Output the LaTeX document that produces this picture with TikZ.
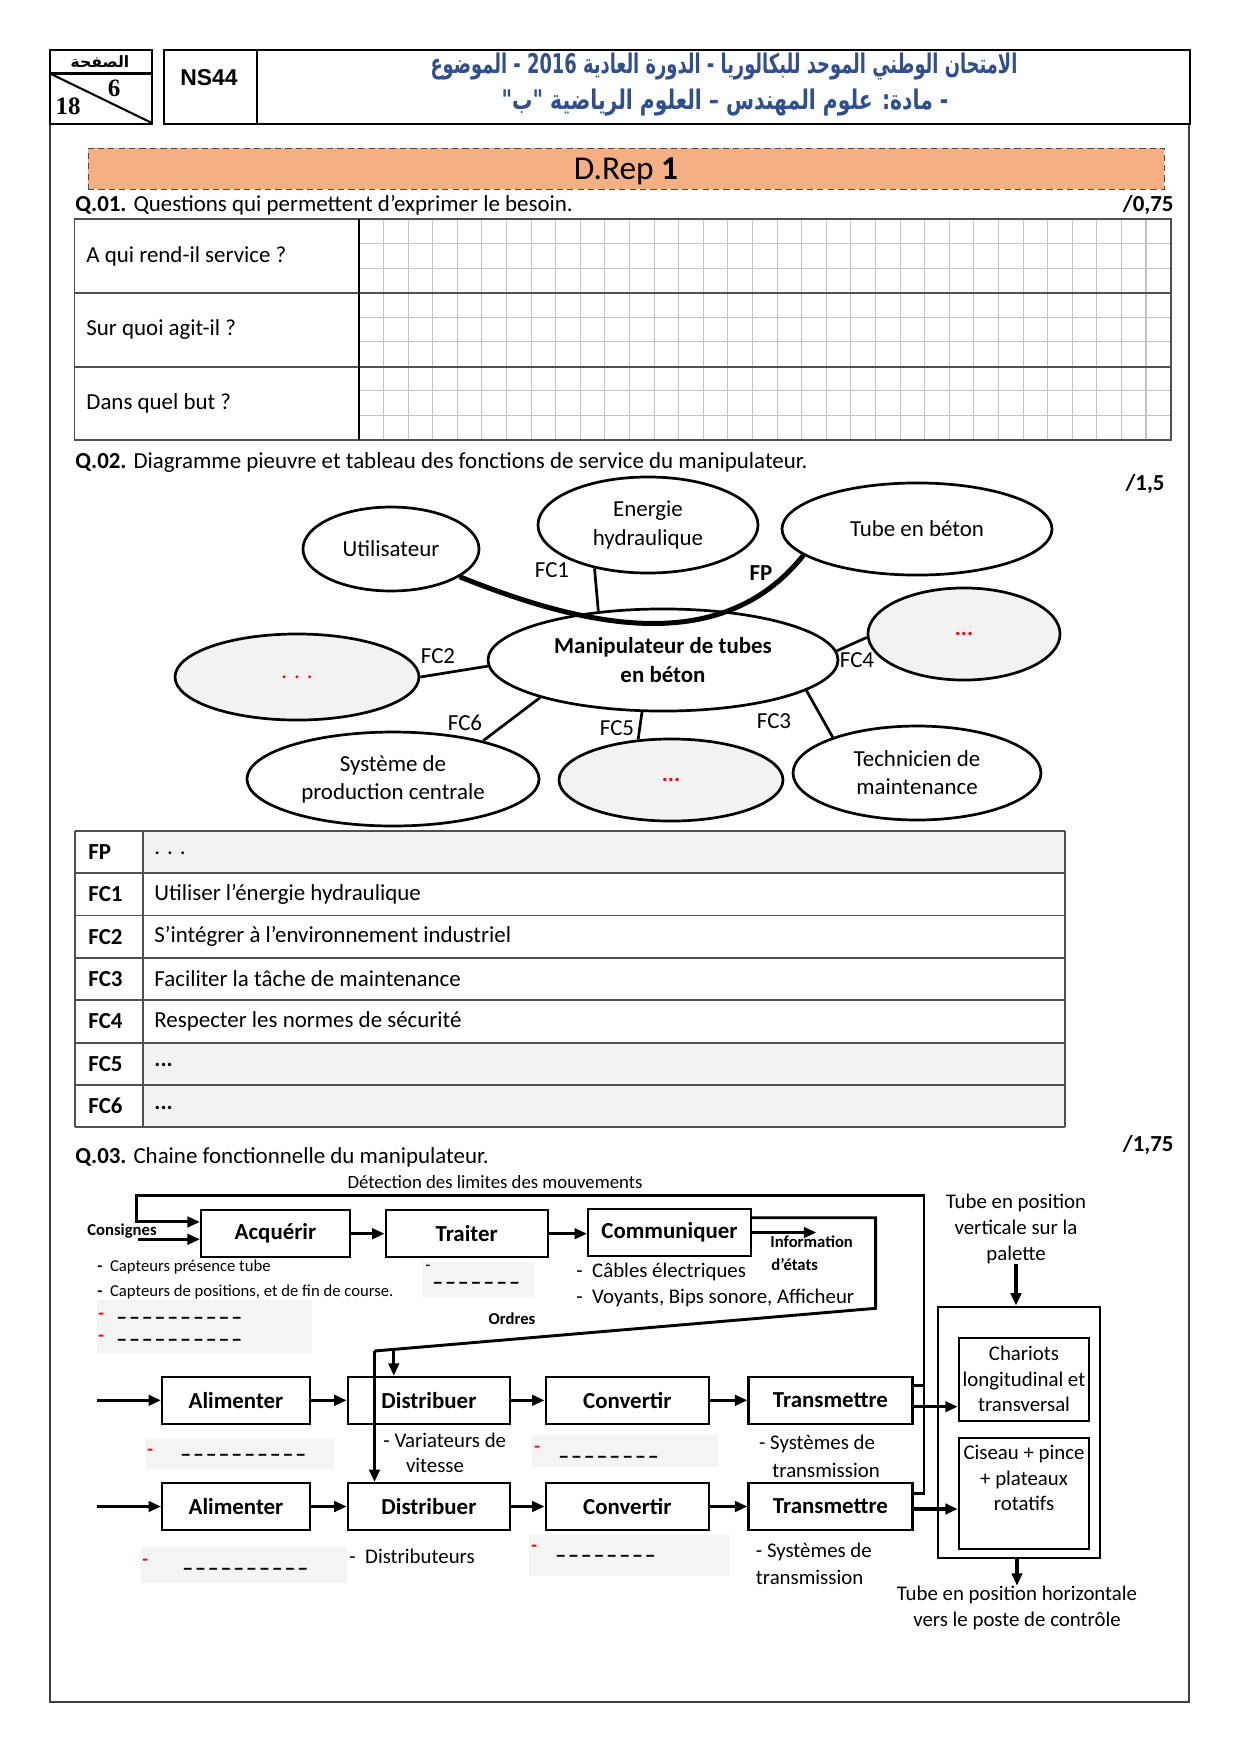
\documentclass[tikz,border=0pt]{standalone}
\usepackage{fontspec}
\setmainfont{Carlito}
\newfontfamily\arfont[Script=Arabic]{DejaVu Sans}
\newfontfamily\arialf{Liberation Sans}
\newfontfamily\timesf{Liberation Serif}
\usetikzlibrary{arrows.meta,shapes.geometric,calc}
\TeXXeTstate=1
\definecolor{drepfill}{RGB}{244,176,132}
\definecolor{arblue}{RGB}{47,79,143}
\definecolor{ellgray}{RGB}{242,242,242}
\definecolor{gridgray}{RGB}{195,195,195}
\definecolor{rowgray}{RGB}{242,242,242}
\definecolor{annexgray}{RGB}{244,244,244}
\definecolor{tblline}{RGB}{80,80,80}
\newcount\dcnt
\newcommand{\dashes}[1]{\dcnt=1 \loop –\ifnum\dcnt<#1\hspace{0.9pt}\advance\dcnt by 1 \repeat}
\tikzset{
  hdr/.style={line width=1.4pt},
  pageframe/.style={line width=0.8pt, draw=black!75},
  ell/.style={ellipse, draw, line width=1.3pt, fill=white, inner sep=0pt, align=center, font=\fontsize{11}{13.5}\selectfont},
  gell/.style={ell, fill=ellgray},
  fcline/.style={line width=1.3pt},
  fclab/.style={font=\fontsize{11}{13}\selectfont},
  blk/.style={draw, line width=1pt, minimum height=22.5pt, inner sep=0pt, font=\bfseries\fontsize{11}{13}\selectfont},
  arr/.style={line width=1.5pt, -{Triangle[length=6pt,width=5pt]}},
  fb/.style={line width=1.4pt},
  ann/.style={font=\fontsize{10}{12}\selectfont},
  sann/.style={font=\fontsize{8}{10}\selectfont},
  dsh/.style={font=\bfseries\fontsize{10.5}{10.5}\selectfont, anchor=west},
  redm/.style={font=\bfseries\fontsize{9}{9}\selectfont, text=red, anchor=west},
  body/.style={font=\fontsize{11}{13}\selectfont},
  grid/.style={draw=gridgray, line width=0.5pt},
  tbl/.style={draw=tblline, line width=0.9pt},
}
\begin{document}
\begin{tikzpicture}[x=0.48pt,y=-0.48pt, every node/.style={inner sep=0pt}]
\useasboundingbox (0,0) rectangle (1240,1754);
% ---------- page frame and header
\draw[pageframe] (50,124) -- (50,1702) -- (1189,1702) -- (1189,124);
\draw[hdr] (50,50) rectangle (152,124);
\draw[hdr] (50,73.5) -- (152,73.5);
\draw[line width=1pt] (50,73.5) -- (152,123);
\node (pg) at (100,61.5) {\arfont\bfseries\fontsize{7.5}{8}\selectfont\beginR الصفحة\endR};
\node (p6) at (114,88) {\timesf\bfseries\fontsize{12}{12}\selectfont 6};
\node (p18) at (68,106) {\timesf\bfseries\fontsize{12}{12}\selectfont 18};
\draw[hdr] (164,50) rectangle (1190,124);
\draw[hdr] (257,50) -- (257,124);
\node (ns) at (209,78) {\arialf\bfseries\fontsize{11}{12}\selectfont NS44};
\node[text=arblue] (ar1) at (724,67) {\scalebox{0.66}[1]{\arfont\bfseries\fontsize{13}{15}\selectfont\beginR الامتحان الوطني الموحد للبكالوريا - الدورة العادية \beginL 2016\endL{} - الموضوع\endR}};
\node[text=arblue] (ar2) at (725,103) {\scalebox{0.75}[1]{\arfont\bfseries\fontsize{13}{15}\selectfont\beginR - مادة: علوم المهندس – العلوم الرياضية "ب"\endR}};
% ---------- D.Rep
\node[draw=black!70, densely dashed, line width=0.4pt, fill=drepfill, minimum width=516.5pt, minimum height=19.7pt] (drep) at (626,168.5) {};
\node[font=\fontsize{16}{18}\selectfont] (dreptxt) at (626,171.5) {D.Rep \textbf{1}};
% ---------- Q.01
\node[body, anchor=west] (q1) at (75,205) {\textbf{Q.01.} Questions qui permettent d’exprimer le besoin.};
\node[body, anchor=east] (m1) at (1174,205) {\textbf{/0,75}};
\foreach \i in {1,...,32} \draw[grid] ({359+\i*24.594},219) -- ({359+\i*24.594},440);
\foreach \r in {0,1,2} \foreach \k in {1,2} \draw[grid] (359,{219+\r*73.67+\k*24.556}) -- (1170.6,{219+\r*73.67+\k*24.556});
\draw[tbl] (74.5,219) rectangle (1170.6,440);
\draw[tbl] (74.5,292.7) -- (1170.6,292.7);
\draw[tbl] (74.5,366.7) -- (1170.6,366.7);
\draw[line width=0.9pt] (359,219) -- (359,440);
\node[body, anchor=west] (qa) at (86,256) {A qui rend-il service ?};
\node[body, anchor=west] (qb) at (86,330) {Sur quoi agit-il ?};
\node[body, anchor=west] (qc) at (86,403) {Dans quel but ?};
% ---------- Q.02
\node[body, anchor=west] (q2) at (75,463) {\textbf{Q.02.} Diagramme pieuvre et tableau des fonctions de service du manipulateur.};
\node[body, anchor=east] (m2) at (1165,484) {\textbf{/1,5}};
\node[ell, minimum width=84.5pt, minimum height=40.3pt] (uti) at (391,549) {Utilisateur};
\node[ell, minimum width=105.6pt, minimum height=46.1pt] (en) at (648,525) {Energie\\hydraulique};
\node[ell, minimum width=129.6pt, minimum height=44.2pt] (tube) at (917,529) {Tube en béton};
\node[ell, minimum width=168pt, minimum height=49pt] (man) at (663,660) {\textbf{Manipulateur de tubes}\\\textbf{en béton}};
\node[gell, minimum width=92.2pt, minimum height=44.2pt] (fc4e) at (964,634) {\textcolor{red}{\textbf{...}}};
\node[gell, minimum width=117.1pt, minimum height=41.3pt] (fc2e) at (297,677) {\textcolor{red}{. . .}};
\node[ell, minimum width=140.2pt, minimum height=45.1pt] (sys) at (393,779) {Système de\\production centrale};
\node[gell, minimum width=107.5pt, minimum height=39.4pt] (fc5e) at (671,780) {\textcolor{red}{\textbf{...}}};
\node[ell, minimum width=119pt, minimum height=45.1pt] (tech) at (917,773) {Technicien de\\maintenance};
\draw[fcline] (en.219) -- (man.143);
\draw[fcline] (fc2e.0) -- (man.182);
\draw[fcline] (man.3) -- (fc4e.182);
\draw[fcline] (man.197) -- (sys.23);
\draw[fcline] (man.248) -- (fc5e.129);
\draw[fcline] (man.-12.5) -- (tech.157);
\draw[line width=2.4pt] (uti.-22) .. controls (580,625) and (720,660) .. (tube.193);
\node[fclab] (lfc1) at (552,570) {FC1};
\node[fclab] (lfp) at (761,573) {\textbf{FP}};
\node[fclab] (lfc2) at (438,656) {FC2};
\node[fclab] (lfc4) at (857,660) {FC4};
\node[fclab] (lfc6) at (465,723) {FC6};
\node[fclab] (lfc5) at (617,728) {FC5};
\node[fclab] (lfc3) at (774,721) {FC3};
% ---------- function table
\foreach \i in {0,5,6} \fill[rowgray] (143.3,{830.7+\i*42.37}) rectangle (1065,{830.7+(\i+1)*42.37});
\foreach \i in {0,...,7} \draw[tbl] (75,{830.7+\i*42.37}) -- (1065,{830.7+\i*42.37});
\draw[tbl] (75,830.7) -- (75,1127.3);
\draw[tbl] (143.3,830.7) -- (143.3,1127.3);
\draw[tbl] (1065,830.7) -- (1065,1127.3);
\node[body, anchor=west] (t0a) at (88,851.9) {\textbf{FP}};
\node[body, anchor=west] (t0b) at (154,853.5) {. . .};
\node[body, anchor=west] (t1a) at (88,894.3) {\textbf{FC1}};
\node[body, anchor=west] (t1b) at (154,894.3) {Utiliser l’énergie hydraulique};
\node[body, anchor=west] (t2a) at (88,936.6) {\textbf{FC2}};
\node[body, anchor=west] (t2b) at (154,936.6) {S’intégrer à l’environnement industriel};
\node[body, anchor=west] (t3a) at (88,979) {\textbf{FC3}};
\node[body, anchor=west] (t3b) at (154,979) {Faciliter la tâche de maintenance};
\node[body, anchor=west] (t4a) at (88,1021.4) {\textbf{FC4}};
\node[body, anchor=west] (t4b) at (154,1021.4) {Respecter les normes de sécurité};
\node[body, anchor=west] (t5a) at (88,1063.7) {\textbf{FC5}};
\node[body, anchor=west] (t5b) at (154,1065) {\textbf{...}};
\node[body, anchor=west] (t6a) at (88,1106.1) {\textbf{FC6}};
\node[body, anchor=west] (t6b) at (154,1107.5) {\textbf{...}};
% ---------- Q.03
\node[body, anchor=west] (q3) at (75,1157) {\textbf{Q.03.} Chaine fonctionnelle du manipulateur.};
\node[body, anchor=east] (m3) at (1174,1145) {\textbf{/1,75}};
\node[font=\fontsize{9}{10}\selectfont] (det) at (495,1182) {Détection des limites des mouvements};
% gray annex areas
\fill[annexgray] (97,1300) rectangle (312,1353);
\fill[annexgray] (421.5,1262) rectangle (534.4,1297);
\fill[annexgray] (145.5,1439) rectangle (334,1469);
\fill[annexgray] (532,1435) rectangle (718,1466.7);
\fill[annexgray] (141,1547) rectangle (347,1583);
\fill[annexgray] (529,1535) rectangle (730,1576);
% chain boxes
\node[blk, minimum width=71.5pt] (acq) at (275.5,1233.7) {Acquérir};
\node[blk, minimum width=77.8pt] (trai) at (466.7,1233.7) {Traiter};
\node[blk, minimum width=78.2pt] (comm) at (669.5,1232.5) {Communiquer};
\node[blk, minimum width=71pt] (aliB) at (236,1400.3) {Alimenter};
\node[blk, minimum width=77.9pt] (disB) at (428.9,1400.3) {Distribuer};
\node[blk, minimum width=78.4pt] (convB) at (627.3,1400.3) {Convertir};
\node[blk, minimum width=78.7pt] (transB) at (830.5,1400.3) {Transmettre};
\node[blk, minimum width=71pt] (aliC) at (236,1506.5) {Alimenter};
\node[blk, minimum width=77.9pt] (disC) at (428.9,1506.5) {Distribuer};
\node[blk, minimum width=78.4pt] (convC) at (627.3,1506.5) {Convertir};
\node[blk, minimum width=78.7pt] (transC) at (830.5,1506.5) {Transmettre};
% right block
\node[draw, line width=1pt, minimum width=77.4pt, minimum height=120.8pt] (outer) at (1019,1432.5) {};
\node[draw, line width=1pt, minimum width=62.6pt, minimum height=39.8pt, align=center, font=\fontsize{10}{12.2}\selectfont] (chariot) at (1024,1379.2) {Chariots\\longitudinal et\\transversal};
\node[draw, line width=1pt, minimum width=62.6pt, minimum height=53.6pt] (ciseau) at (1024,1493.5) {};
\node[align=center, font=\fontsize{10}{12.2}\selectfont] (ciseautxt) at (1024,1478) {Ciseau + pince\\+ plateaux\\rotatifs};
\node[align=center, font=\fontsize{10}{12.3}\selectfont] (tubev) at (1016,1229) {Tube en position\\verticale sur la\\palette};
\node[align=center, font=\fontsize{10}{12.4}\selectfont] (tubeh) at (1017,1608) {Tube en position horizontale\\vers le poste de contrôle};
\draw[arr] (tubev.south) -- (tubev.south |- outer.north);
\draw[arr] (outer.south -| tubeh) -- (tubeh.north);
% chain arrows
\draw[arr] (acq) -- (trai);
\draw[arr] (trai.east) -- (trai.east -| comm.west);
\coordinate (inB) at (97,1400.3);
\coordinate (inC) at (97,1506.5);
\draw[arr] (inB) -- (aliB);
\draw[arr] (aliB) -- (disB);
\draw[arr] (disB) -- (convB);
\draw[arr] (convB) -- (transB);
\draw[arr] (inC) -- (aliC);
\draw[arr] (aliC) -- (disC);
\draw[arr] (disC) -- (convC);
\draw[arr] (convC) -- (transC);
\draw[arr] ([yshift=-3.07pt]transB.east) -- ([yshift=-3.07pt]transB.east -| chariot.west);
\draw[arr] ([yshift=-1.2pt]transC.east) -- ([yshift=-1.2pt]transC.east -| ciseau.west);
% feedback (detection)
\coordinate (fbR) at (924,1195.5);
\coordinate (fbL) at (136.4,1195.5);
\draw[fb, -{Triangle[length=6pt,width=5pt]}] ([yshift=-4.66pt]transB.north east) -| (fbR) -- (fbL) |- ([yshift=-6.1pt]acq.north west);
\draw[fb] ([yshift=-5.3pt]transC.north east) -| (fbR);
\coordinate (cons) at (138,1239.3);
\draw[arr] (cons) -- (cons -| acq.west);
\node[font=\bfseries\fontsize{8}{9}\selectfont] (lcons) at (122,1231) {Consignes};
% information
\coordinate (infoEnd) at (816.4,1232.5);
\draw[arr] (comm.east) -- (infoEnd);
\node[anchor=west, font=\bfseries\fontsize{8}{9}\selectfont] (info1) at (770,1242) {Information};
\node[anchor=west, font=\bfseries\fontsize{8}{9}\selectfont] (info2) at (771,1264) {d’états};
% ordres
\coordinate (ordA) at (875.7,1217.7);
\coordinate (ordB) at (875.7,1308.3);
\coordinate (ordC) at (374.5,1351);
\coordinate (ordD) at (393.8,1349.4);
\draw[fb] (comm.east |- ordA) -- (ordA) -- (ordB) -- (ordC);
\draw[arr] (ordC) -- (ordC |- disC.north);
\draw[arr] (ordD) -- (ordD |- disB.north);
\node[font=\bfseries\fontsize{8}{9}\selectfont] (lord) at (512,1319) {Ordres};
% annex texts
\node[sann, anchor=west] (a1) at (97,1267) {\textbf{-}\ \ Capteurs présence tube};
\node[sann, anchor=west] (a2) at (97,1292) {\textbf{-}\ \ Capteurs de positions, et de fin de course.};
\node[redm] (r1) at (98,1316) {-};
\node[dsh] (d1) at (116,1321) {\dashes{10}};
\node[redm] (r2) at (98,1338) {-};
\node[dsh] (d2) at (116,1343) {\dashes{10}};
\node[sann, anchor=west] (tr1) at (425,1268) {-};
\node[dsh] (d3) at (432,1286) {\dashes{7}};
\node[ann, anchor=west] (c1) at (576,1272) {-\ \ Câbles électriques};
\node[ann, anchor=west] (c2) at (576,1298) {-\ \ Voyants, Bips sonore, Afficheur};
\node[redm] (r3) at (147,1452) {-};
\node[dsh] (d4) at (180,1458) {\dashes{10}};
\node[ann, anchor=west] (v1) at (383,1440) {- Variateurs de};
\node[ann] (v2) at (435,1465) {vitesse};
\node[redm] (r4) at (534,1449) {-};
\node[dsh] (d5) at (558,1460) {\dashes{8}};
\node[ann, anchor=west] (s1) at (758.7,1444) {- Systèmes de};
\node[ann, anchor=west] (s2) at (772,1470) {transmission};
\node[redm] (r5) at (142,1562) {-};
\node[dsh] (d6) at (182,1572) {\dashes{10}};
\node[ann, anchor=west] (di) at (349,1556) {-\ \ Distributeurs};
\node[redm] (r6) at (531,1548) {-};
\node[dsh] (d7) at (555,1558.5) {\dashes{8}};
\node[ann, anchor=west] (s3) at (755.5,1552) {- Systèmes de};
\node[ann, anchor=west] (s4) at (755.5,1577.5) {transmission};
\end{tikzpicture}
\end{document}
